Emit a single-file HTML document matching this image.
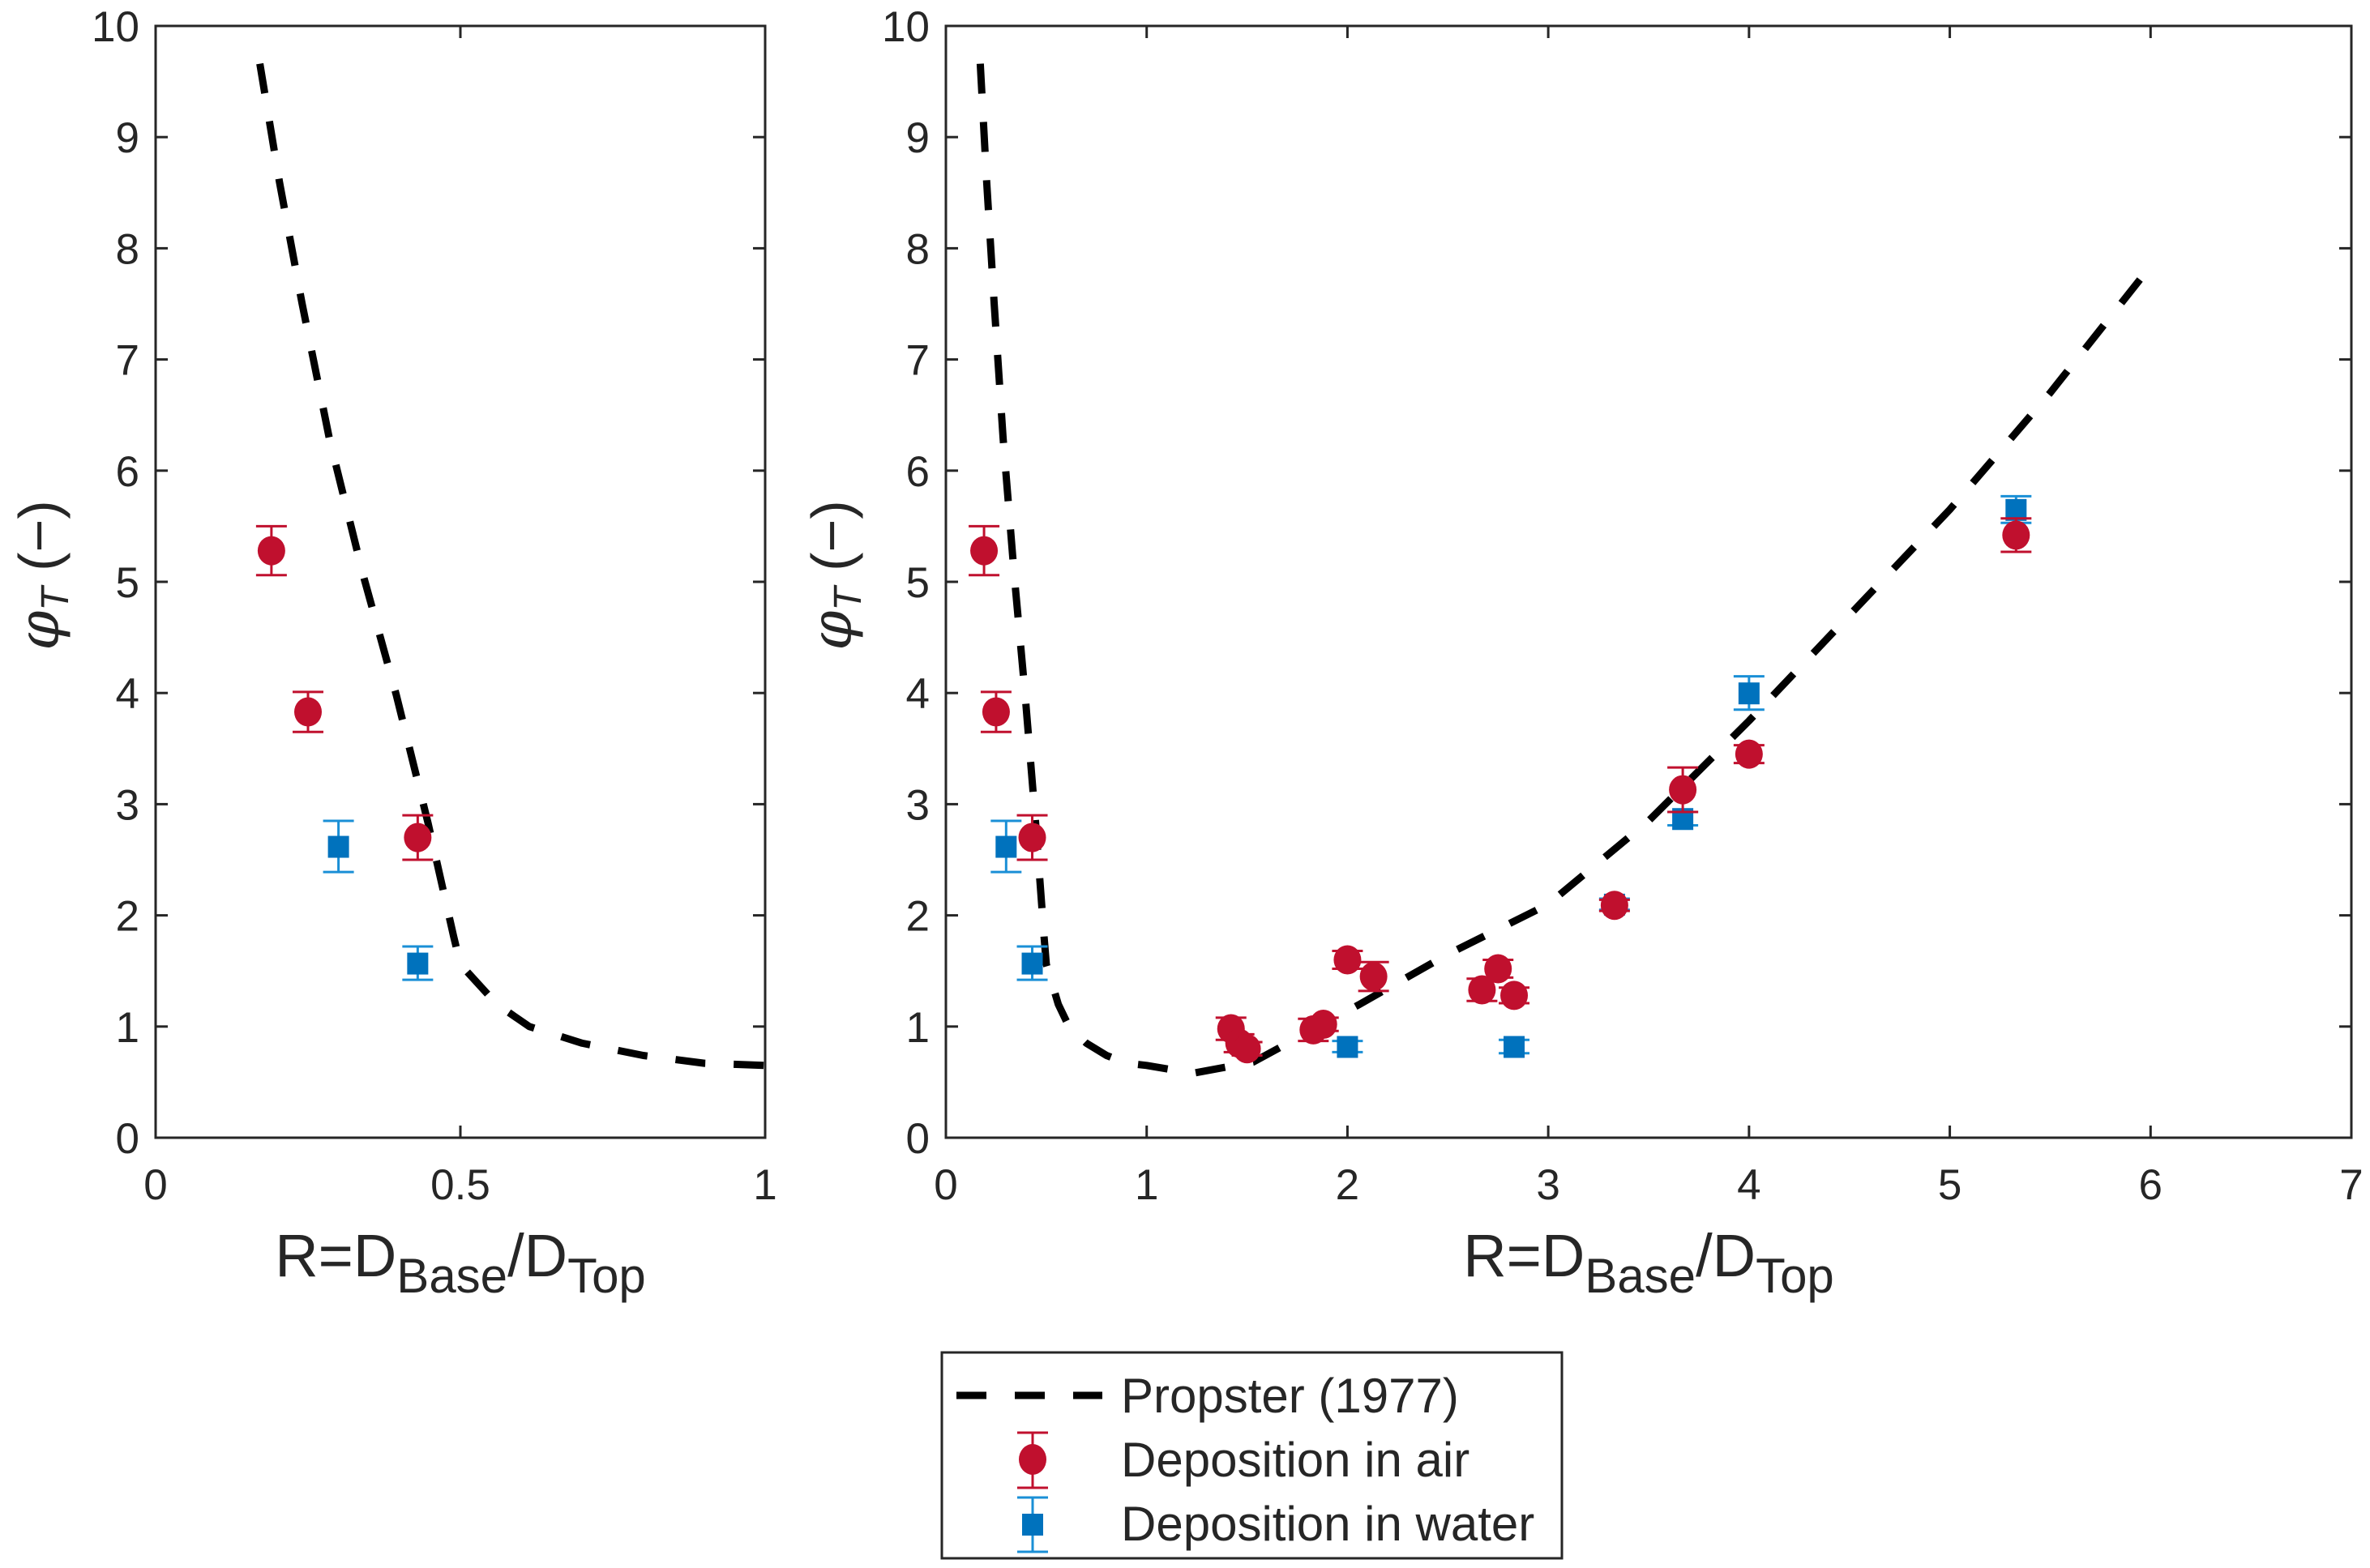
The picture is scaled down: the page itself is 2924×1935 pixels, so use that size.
<!DOCTYPE html>
<html><head><meta charset="utf-8"><style>
html,body{margin:0;padding:0;background:#fff}
svg{display:block}
text{font-family:"Liberation Sans",sans-serif;fill:#262626}
</style></head><body>
<svg id="chart" width="2924" height="1935" viewBox="0 0 2924 1935" xmlns="http://www.w3.org/2000/svg">
<g id="left"></g>
<g id="right"></g>
<g id="legend">
<rect x="1162" y="1669" width="765" height="254" fill="#fff" stroke="#262626" stroke-width="3"/>
<line x1="1180" y1="1722" x2="1360" y2="1722" stroke="#000" stroke-width="9" stroke-dasharray="37,35"/>
<text x="1383" y="1743" font-size="60" fill="#000">Propster (1977)</text>
<line x1="1274" y1="1768" x2="1274" y2="1836" stroke="#c0102e" stroke-width="3"/>
<line x1="1255" y1="1768" x2="1293" y2="1768" stroke="#c0102e" stroke-width="3"/>
<line x1="1255" y1="1836" x2="1293" y2="1836" stroke="#c0102e" stroke-width="3"/>
<ellipse cx="1274" cy="1801" rx="17" ry="19" fill="#c0102e"/>
<text x="1383" y="1822" font-size="60" fill="#000">Deposition in air</text>
<line x1="1274" y1="1848" x2="1274" y2="1915" stroke="#1a8fd6" stroke-width="3"/>
<line x1="1255" y1="1848" x2="1293" y2="1848" stroke="#1a8fd6" stroke-width="3"/>
<line x1="1255" y1="1915" x2="1293" y2="1915" stroke="#1a8fd6" stroke-width="3"/>
<rect x="1261" y="1868" width="26" height="27" fill="#0072bd"/>
<text x="1383" y="1901" font-size="60" fill="#000">Deposition in water</text>
</g>
</svg>
<script>
const curveX=[0.171,0.203,0.24,0.285,0.34,0.395,0.447,0.489,0.5,0.56,0.613,0.7,0.8,0.9,1.0,1.23,1.53,2.06,2.5,3.0,3.5,4.0,4.5,5.0,5.5,6.0];
const curveY=[9.66,8.6,7.51,6.29,5.07,3.98,2.83,1.81,1.56,1.2,1.0,0.85,0.74,0.67,0.65,0.58,0.68,1.2,1.65,2.1,2.85,3.75,4.7,5.65,6.7,7.84];
const airX=[0.19,0.25,0.43,1.42,1.46,1.5,1.83,1.88,2.0,2.13,2.67,2.75,2.83,3.33,3.67,4.0,5.33];
const airY=[5.28,3.83,2.7,0.98,0.85,0.8,0.97,1.02,1.6,1.45,1.33,1.52,1.28,2.09,3.13,3.45,5.42];
const airErr=[0.22,0.18,0.2,0.1,0.08,0.06,0.1,0.06,0.08,0.13,0.1,0.08,0.07,0.05,0.2,0.08,0.15];
const waterX=[0.3,0.43,2.0,2.83,3.33,3.67,4.0,5.33];
const waterY=[2.62,1.57,0.82,0.82,2.1,2.87,4.0,5.65];
const waterErr=[0.23,0.15,0.05,0.06,0.05,0.06,0.15,0.12];
const yTicks=[0,1,2,3,4,5,6,7,8,9,10];
const leftXTicks=[0,0.5,1];
const leftXLabels=["0","0.5","1"];
const rightXTicks=[0,1,2,3,4,5,6,7];
const NS="http://www.w3.org/2000/svg";
function mk(p,tag,a){const e=document.createElementNS(NS,tag);for(const k in a)e.setAttribute(k,a[k]);p.appendChild(e);return e;}
function panel(gid,x0,x1,xmax,xt,xl,lblCx,ylx){
 const g=document.getElementById(gid);
 const y0=1404,y1=32;
 const sx=v=>x0+(x1-x0)*v/xmax, sy=v=>y0-(y0-y1)*v/10;
 const clipId=gid+'clip';
 const cp=mk(g,'clipPath',{id:clipId});mk(cp,'rect',{x:x0,y:y1,width:x1-x0,height:y0-y1});
 yTicks.forEach(v=>{
  const t=mk(g,'text',{x:x0-20,y:sy(v)+19,'font-size':53,'text-anchor':'end'});t.textContent=v;
  
  
  mk(g,'line',{x1:x0,x2:x0+15,y1:sy(v),y2:sy(v),stroke:'#262626','stroke-width':3});
  mk(g,'line',{x1:x1,x2:x1-15,y1:sy(v),y2:sy(v),stroke:'#262626','stroke-width':3});
 });
 xt.forEach((v,i)=>{
  const t=mk(g,'text',{x:sx(v),y:1480,'font-size':53,'text-anchor':'middle'});t.textContent=xl[i];
  
  
  mk(g,'line',{x1:sx(v),x2:sx(v),y1:y0,y2:y0-15,stroke:'#262626','stroke-width':3});
  mk(g,'line',{x1:sx(v),x2:sx(v),y1:y1,y2:y1+15,stroke:'#262626','stroke-width':3});
 });
 const box=mk(g,'rect',{x:x0,y:y1,width:x1-x0,height:y0-y1,fill:'none',stroke:'#262626','stroke-width':3});
 
 
 const inner=mk(g,'g',{'clip-path':'url(#'+clipId+')'});
 let d='';curveX.forEach((v,i)=>{d+=(i?'L':'M')+sx(v).toFixed(1)+','+sy(curveY[i]).toFixed(1);});
 const ln=mk(inner,'path',{d:d,fill:'none',stroke:'#000','stroke-width':9,'stroke-dasharray':'37,35','stroke-linejoin':'round'});
 
 
 function eb(x,y,e,c){const X=sx(x);mk(inner,'line',{x1:X,x2:X,y1:sy(y-e),y2:sy(y+e),stroke:c,'stroke-width':3});
  [y-e,y+e].forEach(v=>mk(inner,'line',{x1:X-19,x2:X+19,y1:sy(v),y2:sy(v),stroke:c,'stroke-width':3}));}
 waterX.forEach((x,i)=>{eb(x,waterY[i],waterErr[i],'#1a8fd6');
  const r=mk(inner,'rect',{x:sx(x)-13,y:sy(waterY[i])-13,width:26,height:27,fill:'#0072bd'});
  
  });
 airX.forEach((x,i)=>{eb(x,airY[i],airErr[i],'#c0102e');
  const c=mk(inner,'ellipse',{cx:sx(x),cy:sy(airY[i]),rx:17,ry:18,fill:'#c0102e'});
  
  });
 const xl2=mk(g,'text',{x:lblCx,y:1575,'font-size':74,'text-anchor':'middle'});
 
 
 xl2.innerHTML='R=D<tspan dy="20" font-size="60">Base</tspan><tspan dy="-20">/D</tspan><tspan dy="20" font-size="60">Top</tspan>';
 const yl=mk(g,'text',{x:0,y:0,transform:'translate('+ylx+',710) rotate(-90)','font-size':70,'text-anchor':'middle','font-family':'Liberation Serif, serif'});
 
 
 yl.innerHTML='<tspan font-style="italic" font-family="DejaVu Serif, serif">φ</tspan><tspan font-style="italic" font-size="48" dy="12">T</tspan><tspan dy="-12"> (−)</tspan>';
}
panel('left',192,944,1,leftXTicks,leftXLabels,568,72);
panel('right',1167,2901,7,rightXTicks,rightXTicks.map(String),2034,1050);
</script>
</body></html>
